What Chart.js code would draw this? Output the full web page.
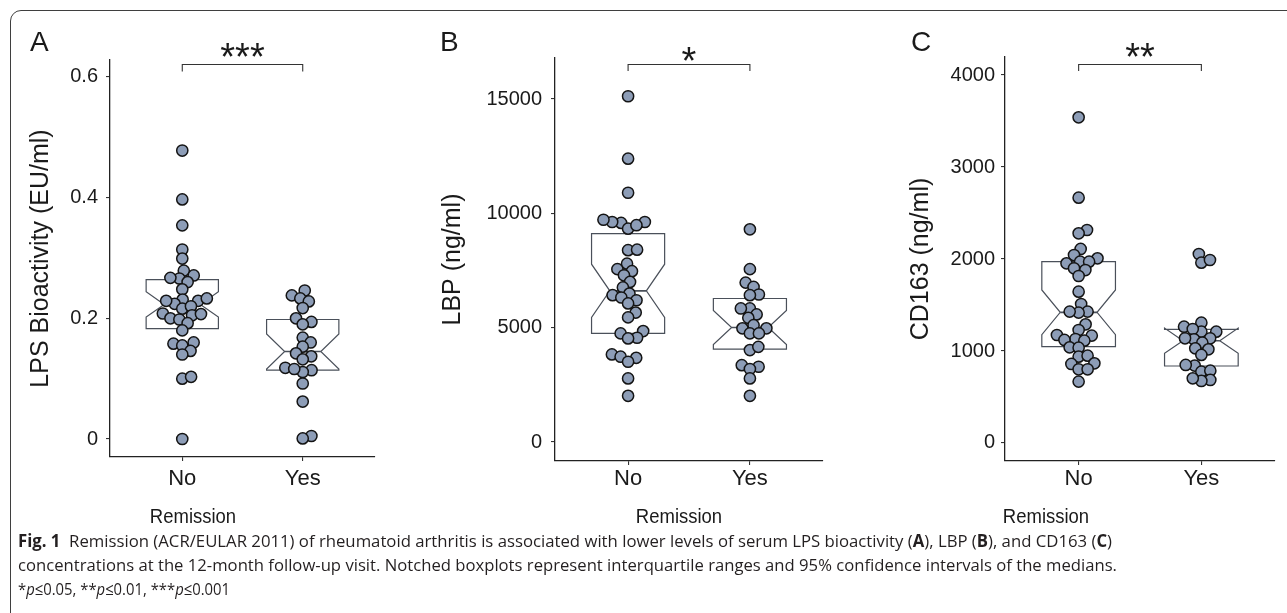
<!DOCTYPE html>
<html><head><meta charset="utf-8">
<script src="https://cdn.jsdelivr.net/npm/chart.js@4.4.1/dist/chart.umd.min.js"></script>
<style>
html,body{margin:0;padding:0;background:#fff;width:1287px;height:613px;overflow:hidden;}
#frame{position:absolute;left:10px;top:10px;width:1400px;height:700px;border:1.3px solid #3f3f3f;border-radius:11px;box-sizing:border-box;}
canvas{position:absolute;left:0;top:0;}
.letter{position:absolute;top:28px;font-family:"Liberation Sans",Arial,sans-serif;font-size:28px;line-height:1;color:#1a1a1a;}
.xtitle{position:absolute;top:505px;font-family:"Liberation Sans",Arial,sans-serif;font-size:21px;line-height:1;color:#1a1a1a;transform:translateX(-50%) scaleX(0.88);white-space:nowrap;}
.cap{position:absolute;left:18px;font-family:"Open Sans","DejaVu Sans Condensed",sans-serif;font-size:17px;line-height:1;color:#231f20;white-space:nowrap;transform-origin:0 0;}
.cap b{font-weight:700;}
</style></head>
<body>
<div id="frame"></div>
<canvas id="cA" width="1287" height="613"></canvas>
<canvas id="cB" width="1287" height="613"></canvas>
<canvas id="cC" width="1287" height="613"></canvas>
<div class="letter" style="left:30px">A</div>
<div class="letter" style="left:440px">B</div>
<div class="letter" style="left:911px">C</div>
<div class="xtitle" style="left:193px">Remission</div>
<div class="xtitle" style="left:679px">Remission</div>
<div class="xtitle" style="left:1046px">Remission</div>
<div class="cap" data-w="1094" style="top:532px"><b>Fig. 1</b>&nbsp; Remission (ACR/EULAR 2011) of rheumatoid arthritis is associated with lower levels of serum LPS bioactivity (<b>A</b>), LBP (<b>B</b>), and CD163 (<b>C</b>)</div>
<div class="cap" data-w="1099" style="top:556px">concentrations at the 12-month follow-up visit. Notched boxplots represent interquartile ranges and 95% confidence intervals of the medians.</div>
<div class="cap" data-w="212" style="top:580px">*<i>p</i>≤0.05, **<i>p</i>≤0.01, ***<i>p</i>≤0.001</div>
<script>
// ---------- data ----------
const groups = ['No', 'Yes'];

const lpsNo  = [0.478, 0.397, 0.354, 0.314, 0.299, 0.279, 0.271, 0.266, 0.260, 0.267, 0.248, 0.229, 0.231, 0.224, 0.229, 0.233, 0.216, 0.220, 0.208, 0.205, 0.207, 0.200, 0.198, 0.192, 0.180, 0.160, 0.158, 0.155, 0.146, 0.140, 0.100, 0.103, 0];
const lpsYes = [0.246, 0.238, 0.233, 0.228, 0.217, 0.194, 0.200, 0.190, 0.168, 0.160, 0.153, 0.142, 0.137, 0.132, 0.118, 0.114, 0.111, 0.116, 0.092, 0.062, 0.005, 0.001];
const lpsQ1 = [0.183, 0.114], lpsMedian = [0.223, 0.145], lpsQ3 = [0.264, 0.198];
const lpsNotchLo = [0.202, 0.116], lpsNotchHi = [0.244, 0.174];
const lpsTicks = [0, 0.2, 0.4, 0.6];
const lpsTickLabels = ['0', '0.2', '0.4', '0.6'];

const lbpNo  = [15120, 12390, 10900, 9580, 9620, 9620, 9720, 9330, 9480, 8390, 8410, 7800, 7560, 7470, 7290, 7000, 6760, 6420, 6490, 6320, 6200, 6060, 5660, 5450, 4850, 4560, 4750, 4530, 3680, 3830, 3730, 3510, 2780, 2020];
const lbpYes = [9300, 7560, 6970, 6780, 6450, 6420, 5840, 5840, 5580, 5430, 5110, 4970, 4970, 4750, 4750, 4020, 4160, 3290, 3360, 3190, 2780, 2020];
const lbpQ1 = [4750, 4060], lbpMedian = [6610, 5010], lbpQ3 = [9110, 6275];
const lbpNotchLo = [5445, 4265], lbpNotchHi = [7775, 5755];
const lbpTicks = [0, 5000, 10000, 15000];
const lbpTickLabels = ['0', '5000', '10000', '15000'];

const cd163No  = [3540, 2667, 2315, 2279, 2109, 2007, 2043, 1971, 1953, 1971, 1899, 1880, 1815, 1645, 1511, 1428, 1417, 1428, 1290, 1228, 1174, 1130, 1167, 1112, 1120, 1040, 1036, 938, 949, 859, 866, 801, 801, 667];
const cd163Yes = [2054, 1960, 1989, 1308, 1264, 1210, 1239, 1210, 1127, 1138, 1138, 1090, 1029, 1018, 957, 841, 848, 775, 786, 685, 674, 703];
const cd163Q1 = [1047, 837], cd163Median = [1420, 1112], cd163Q3 = [1971, 1236];
const cd163NotchLo = [1177, 975], cd163NotchHi = [1663, 1249];
const cd163Ticks = [0, 1000, 2000, 3000, 4000];
const cd163TickLabels = ['0', '1000', '2000', '3000', '4000'];

const sigLabels = ['***', '*', '**'];

// ---------- drawing ----------
const FONT = '"Liberation Sans", Arial, sans-serif';
const W = 1287, H = 613;

function swarmX(chart, vals, center, d) {
  const ys = chart.scales.y, xs = chart.scales.x;
  const ppu = xs.getPixelForValue(1) - xs.getPixelForValue(0);
  const order = vals.map((v, i) => i).sort((a, b) => vals[a] - vals[b]);
  const placed = [], out = new Array(vals.length);
  for (const i of order) {
    const py = ys.getPixelForValue(vals[i]);
    const cands = [0];
    for (const q of placed) {
      const dy = Math.abs(q.y - py);
      if (dy < d) { const dx = Math.sqrt(d * d - dy * dy); cands.push(q.x + dx + 0.01, q.x - dx - 0.01); }
    }
    cands.sort((a, b) => Math.abs(a) - Math.abs(b));
    let best = 0;
    for (const c of cands) {
      if (placed.every(q => (q.x - c) ** 2 + (q.y - py) ** 2 >= d * d - 0.05)) { best = c; break; }
    }
    placed.push({ x: best, y: py });
    out[i] = center + best / ppu;
  }
  return out;
}

function buildPanel(id, p) {
  const xH = 45;
  const yW = p.area.l - p.yScaleLeft;
  const notch = {
    id: 'notch' + id,
    beforeDatasetsDraw(chart) {
      const { ctx, scales: { x, y } } = chart;
      const Y = v => y.getPixelForValue(v);
      ctx.save();
      for (let g = 0; g < groups.length; g++) {
        const x0 = x.getPixelForValue(g - 0.3), x1 = x.getPixelForValue(g + 0.3);
        const ind = (x1 - x0) * 0.25;
        const q1 = Y(p.q1[g]), q3 = Y(p.q3[g]), md = Y(p.med[g]), lo = Y(p.nLo[g]), hi = Y(p.nHi[g]);
        ctx.beginPath();
        ctx.moveTo(x0, q3); ctx.lineTo(x0, hi); ctx.lineTo(x0 + ind, md); ctx.lineTo(x0, lo); ctx.lineTo(x0, q1);
        ctx.lineTo(x1, q1); ctx.lineTo(x1, lo); ctx.lineTo(x1 - ind, md); ctx.lineTo(x1, hi); ctx.lineTo(x1, q3);
        ctx.closePath();
        ctx.fillStyle = '#ffffff'; ctx.fill();
        ctx.lineWidth = 1.2; ctx.strokeStyle = '#4a505a'; ctx.stroke();
        ctx.beginPath(); ctx.moveTo(x0 + ind, md); ctx.lineTo(x1 - ind, md);
        ctx.lineWidth = 1.6; ctx.stroke();
      }
      ctx.restore();
    }
  };
  const sig = {
    id: 'sig' + id,
    afterDraw(chart) {
      const { ctx, scales: { x, y } } = chart;
      const xa = x.getPixelForValue(0), xb = x.getPixelForValue(1);
      const yb = Math.round(y.getPixelForValue(p.bracketY)) + 0.5;
      const yt = y.getPixelForValue(p.bracketTickY);
      ctx.save();
      ctx.strokeStyle = '#333'; ctx.lineWidth = 1.1;
      ctx.beginPath(); ctx.moveTo(xa, yt); ctx.lineTo(xa, yb); ctx.lineTo(xb, yb); ctx.lineTo(xb, yt); ctx.stroke();
      ctx.fillStyle = '#1a1a1a'; ctx.font = '38px ' + FONT; ctx.textAlign = 'center'; ctx.textBaseline = 'alphabetic';
      ctx.fillText(p.stars, (xa + xb) / 2, yb - p.starLift + 0.58 * 38);
      ctx.restore();
    }
  };
  const grid = { drawOnChartArea: false, drawTicks: true, tickLength: 4, color: '#333', lineWidth: 1.1 };
  const border = { display: true, color: '#222', width: 1.3 };
  const chart = new Chart(document.getElementById(id), {
    type: 'scatter',
    data: {
      datasets: p.values.map((vals, g) => ({
        data: vals.map(v => ({ x: g, y: v })),
        pointRadius: 5.6, pointHoverRadius: 5.6,
        pointBackgroundColor: '#8d9db7', pointBorderColor: '#141414', pointBorderWidth: 1.5
      }))
    },
    options: {
      responsive: false, animation: false, events: [],
      layout: { padding: { left: p.yScaleLeft, top: p.area.t, right: W - p.area.r, bottom: H - p.area.b - xH } },
      plugins: { legend: { display: false }, tooltip: { enabled: false } },
      scales: {
        x: {
          type: 'linear', bounds: 'data', min: -0.6, max: 1.6,
          afterBuildTicks: s => { s.ticks = groups.map((_, i) => ({ value: i })); },
          afterFit: s => { s.height = xH; },
          ticks: { callback: (v, i) => groups[i], font: { family: FONT, size: 22 }, color: '#1a1a1a', padding: p.xPad, maxRotation: 0, autoSkip: false },
          grid, border
        },
        y: {
          type: 'linear', bounds: 'data', min: p.yMin, max: p.yMax,
          afterBuildTicks: s => { s.ticks = p.ticks.map(v => ({ value: v })); },
          afterFit: s => { s.width = yW; },
          ticks: { callback: (v, i) => p.tickLabels[i], font: { family: FONT, size: 20 }, color: '#1a1a1a', padding: p.yPad, autoSkip: false },
          grid, border,
          title: { display: true, text: p.yTitle, font: { family: FONT, size: 25 }, color: '#1a1a1a', padding: { top: 1, bottom: 0 } }
        }
      }
    },
    plugins: [notch, sig]
  });
  p.values.forEach((vals, g) => {
    const xs = swarmX(chart, vals, g, 9);
    chart.data.datasets[g].data = vals.map((v, i) => ({ x: xs[i], y: v }));
  });
  chart.update('none');
}

buildPanel('cA', {
  area: { l: 110, r: 375, t: 60, b: 457 }, yScaleLeft: 25, yMin: -0.0298, yMax: 0.628,
  values: [lpsNo, lpsYes], q1: lpsQ1, med: lpsMedian, q3: lpsQ3, nLo: lpsNotchLo, nHi: lpsNotchHi,
  ticks: lpsTicks, tickLabels: lpsTickLabels, yTitle: 'LPS Bioactivity (EU/ml)',
  xPad: 5, yPad: 8, bracketY: 0.621, bracketTickY: 0.609, stars: sigLabels[0], starLift: 16.5
});
buildPanel('cB', {
  area: { l: 555, r: 823, t: 58, b: 461 }, yScaleLeft: 437, yMin: -831, yMax: 16793,
  values: [lbpNo, lbpYes], q1: lbpQ1, med: lbpMedian, q3: lbpQ3, nLo: lbpNotchLo, nHi: lbpNotchHi,
  ticks: lbpTicks, tickLabels: lbpTickLabels, yTitle: 'LBP (ng/ml)',
  xPad: 1, yPad: 9, bracketY: 16530, bracketTickY: 16224, stars: sigLabels[1], starLift: 13
});
buildPanel('cC', {
  area: { l: 1005, r: 1275, t: 57, b: 461 }, yScaleLeft: 905, yMin: -196, yMax: 4196,
  values: [cd163No, cd163Yes], q1: cd163Q1, med: cd163Median, q3: cd163Q3, nLo: cd163NotchLo, nHi: cd163NotchHi,
  ticks: cd163Ticks, tickLabels: cd163TickLabels, yTitle: 'CD163 (ng/ml)',
  xPad: 1, yPad: 6, bracketY: 4120, bracketTickY: 4043, stars: sigLabels[2], starLift: 16.5
});

document.querySelectorAll('.cap').forEach(el => {
  const w = el.getBoundingClientRect().width;
  el.style.transform = 'scaleX(' + (+el.dataset.w / w) + ')';
});
</script>
</body></html>
